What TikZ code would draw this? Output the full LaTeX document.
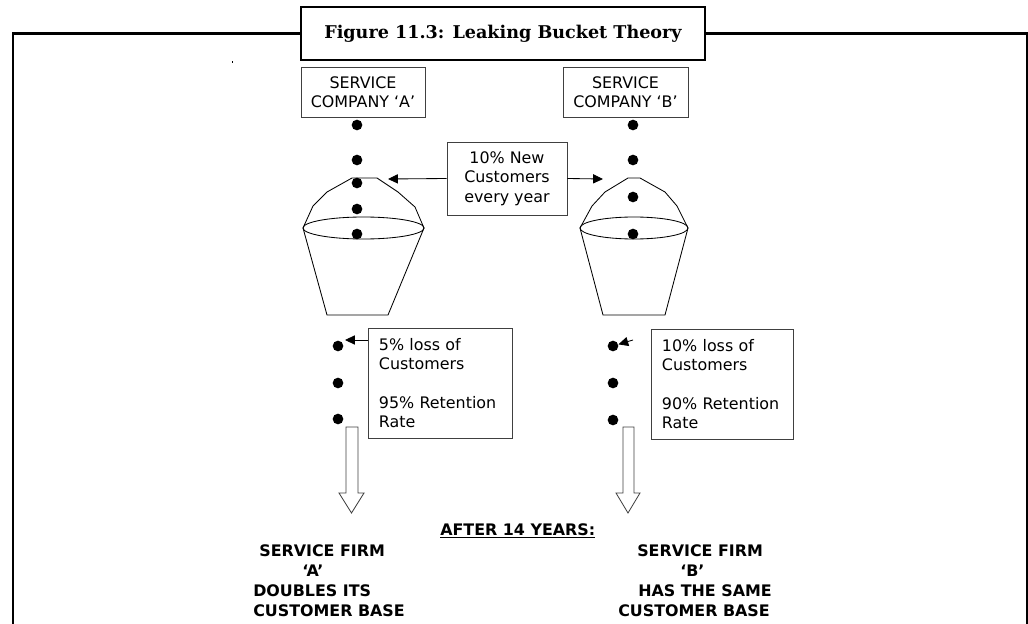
\documentclass[tikz,border=0pt]{standalone}
\usepackage{fontspec}
\usepackage{tikz}
\usetikzlibrary{arrows.meta, calc}
\newfontfamily\verdfont{DejaVu Sans}
\newfontfamily\headfont{DejaVu Serif}
\definecolor{LineGrey}{HTML}{404040}

\tikzset{
    textbox/.style   = {draw = LineGrey, line width = 0.6pt, inner sep = 0pt, align = center,
                        font = \verdfont\fontsize{11.3}{13.8}\selectfont},
    lossbox/.style   = {textbox, align = left, inner xsep = 0.275cm, minimum height = 2.75cm},
    titlebox/.style  = {draw, line width = 1pt, inner sep = 0pt, minimum width = 10.1cm, minimum height = 1.325cm,
                        font = \headfont\bfseries\fontsize{12.5}{15}\selectfont},
    boldtext/.style  = {inner sep = 0pt, align = left, font = \verdfont\bfseries\fontsize{11.3}{14.2}\selectfont},
    custdot/.style   = {circle, fill, inner sep = 0pt, minimum size = 0.267cm},
    bucket/.style    = {draw, line width = 0.6pt},
    newarr/.style    = {-{Triangle[length = 7pt, width = 6.5pt]}, line width = 0.6pt},
    blockarr/.style  = {draw = LineGrey, line width = 0.6pt, fill = white, line join = miter},
    frame/.style     = {line width = 2pt}
}

\begin{document}
\begin{tikzpicture}[x = 0.025cm, y = -0.025cm]
    \useasboundingbox (0, 0) rectangle (1028, 624);

    % heading and the frame hanging from it
    \node[titlebox] (title) at (503, 33.5) {Figure 11.3: Leaking Bucket Theory};
    \draw[frame] (title.west) -| (13, 624);
    \draw[frame] (title.east) -| (1027, 624);
    \fill (231.5, 61.5) rectangle (232.8, 62.8);

    \node[textbox, minimum width = 3.1cm, minimum height = 1.25cm] (compA) at (363, 92) {SERVICE\\COMPANY ‘A’};
    \node[textbox, minimum width = 3.125cm, minimum height = 1.25cm] (compB) at (625.5, 92) {SERVICE\\COMPANY ‘B’};
    \node[textbox, minimum width = 3cm, minimum height = 1.825cm] (newcust) at (507, 178.5) {10\% New\\Customers\\every year};

    % bucket A
    \draw[bucket] (303, 228) -- (313, 206) -- (327, 192) -- (352, 178) -- (377, 178) -- (398, 192) -- (415, 207) -- (424, 228);
    \draw[bucket] (363.5, 228) ellipse [x radius = 1.5125cm, y radius = 0.275cm];
    \draw[bucket] (303, 228) -- (327, 315) -- (388, 315) -- (424, 228);
    % bucket B
    \draw[bucket] (580, 228) -- (592, 206) -- (605, 192) -- (628, 178) -- (640, 178) -- (665, 192) -- (677, 206) -- (688, 228);
    \draw[bucket] (634, 228) ellipse [x radius = 1.35cm, y radius = 0.275cm];
    \draw[bucket] (580, 228) -- (603, 315) -- (665, 315) -- (688, 228);

    % customers flowing in and out
    \foreach \y [count = \i] in {125, 160, 183, 209, 234}
        \node[custdot] (inA\i) at (357, \y) {};
    \foreach \y [count = \i] in {125, 160, 197, 234}
        \node[custdot] (inB\i) at (633, \y) {};
    \foreach \y [count = \i] in {346, 383, 419}
        \node[custdot] (outA\i) at (338, \y) {};
    \foreach \y [count = \i] in {346, 383, 420}
        \node[custdot] (outB\i) at (613, \y) {};

    \coordinate (domeA) at (388, 179);
    \coordinate (domeB) at (603, 179);
    \draw[newarr] (newcust.west) -- (domeA);
    \draw[newarr] (newcust.east) -- (domeB);

    \node[lossbox, text width = 3.05cm] (lossA) at (440, 383) {5\% loss of\\Customers\\[13.8pt]95\% Retention\\Rate};
    \node[lossbox, text width = 3cm] (lossB) at (722, 384) {10\% loss of\\Customers\\[13.8pt]90\% Retention\\Rate};

    \coordinate (leakA) at (345, 340);
    \coordinate (leakB) at (633, 340);
    \draw[newarr] (lossA.west |- leakA) -- (leakA);
    \draw[newarr] (leakB) -- (outB1);

    % hollow arrows down to the outcome
    \path[blockarr] (346, 427) -- (346, 493) -- (339, 493) -- (351.5, 513) -- (364, 493) -- (358, 493) -- (358, 427) -- cycle;
    \path[blockarr] (623, 427) -- (623, 493) -- (616, 493) -- (628, 513) -- (640, 493) -- (634, 493) -- (634, 427) -- cycle;

    \node[boldtext, anchor = base west] (after) at (440, 535) {\underline{AFTER 14 YEARS:}};
    \node[boldtext, anchor = north west] (firmA) at (253, 544.5)
        {\hspace*{4.3pt}SERVICE FIRM\\\hspace*{34.9pt}‘A’\\DOUBLES ITS\\CUSTOMER BASE};
    \node[boldtext, anchor = north west] (firmB) at (618, 544.5)
        {\hspace*{13.5pt}SERVICE FIRM\\\hspace*{44.1pt}‘B’\\\hspace*{14.2pt}HAS THE SAME\\CUSTOMER BASE};
\end{tikzpicture}
\end{document}
